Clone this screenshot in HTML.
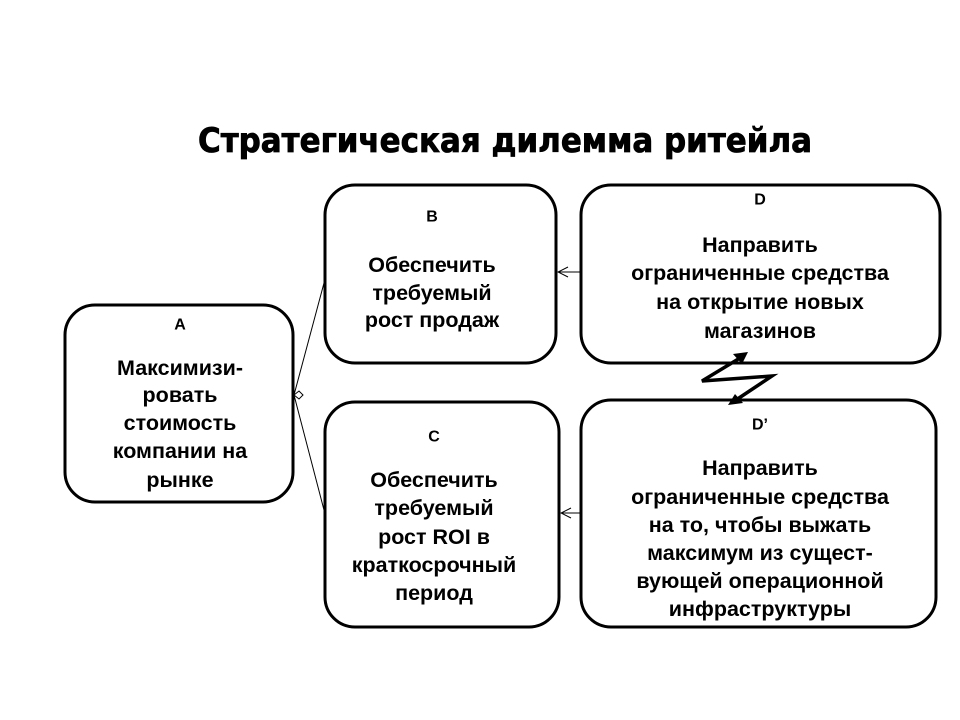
<!DOCTYPE html>
<html><head><meta charset="utf-8"><style>
html,body{margin:0;padding:0;background:#fff;}
svg{display:block;}
text{font-family:"Liberation Sans","DejaVu Sans",sans-serif;font-weight:bold;fill:#000;}
</style></head><body>
<svg width="960" height="720" viewBox="0 0 960 720" xmlns="http://www.w3.org/2000/svg">
<defs>
<marker id="op" markerWidth="12" markerHeight="12" refX="11" refY="6" orient="auto" markerUnits="userSpaceOnUse">
<path d="M1,1 L11,6 L1,11" fill="none" stroke="#000" stroke-width="1"/>
</marker>
</defs>
<text x="505" y="152" font-size="34" text-anchor="middle" textLength="614" lengthAdjust="spacingAndGlyphs" style="font-family:'DejaVu Sans',sans-serif" stroke="#000" stroke-width="0.8">Стратегическая дилемма ритейла</text>
<g fill="none" stroke="#000" stroke-width="3">
<rect x="65" y="305" width="228" height="197" rx="30"/>
<rect x="325" y="185" width="231" height="178" rx="30"/>
<rect x="325" y="402" width="234" height="225" rx="30"/>
<rect x="581" y="185" width="359" height="178" rx="30"/>
<rect x="581" y="400" width="355" height="227" rx="30"/>
</g>
<g stroke="#000" stroke-width="1" fill="none">
<line x1="294" y1="395" x2="324" y2="283"/>
<line x1="294" y1="395" x2="324" y2="510"/>
<path d="M294,395 l5,-4 l4,4 l-4,4 z"/>
<line x1="581" y1="272" x2="558" y2="272" marker-end="url(#op)"/>
<line x1="581" y1="513" x2="561" y2="513" marker-end="url(#op)"/>
</g>
<g stroke="#000" stroke-width="3.5" fill="none">
<polyline points="740,358 702,381 772,376 736,400"/>
</g>
<path d="M748,352 L733,354 L742,364 Z" fill="#000"/>
<path d="M728,405 L743,403 L735,394 Z" fill="#000"/>
<g font-size="21.5" text-anchor="middle" dominant-baseline="central">
<text x="180" y="325" font-size="16">A</text>
<text x="180" y="368">Максимизи-</text>
<text x="180" y="395">ровать</text>
<text x="180" y="423">стоимость</text>
<text x="180" y="451">компании на</text>
<text x="180" y="480">рынке</text>

<text x="432" y="217" font-size="16">B</text>
<text x="432" y="265">Обеспечить</text>
<text x="432" y="293">требуемый</text>
<text x="432" y="320">рост продаж</text>

<text x="434" y="437" font-size="16">C</text>
<text x="434" y="480">Обеспечить</text>
<text x="434" y="508">требуемый</text>
<text x="434" y="537">рост ROI в</text>
<text x="434" y="565">краткосрочный</text>
<text x="434" y="593">период</text>

<text x="760" y="200" font-size="16">D</text>
<text x="760" y="245">Направить</text>
<text x="760" y="273">ограниченные средства</text>
<text x="760" y="302">на открытие новых</text>
<text x="760" y="331">магазинов</text>

<text x="760" y="425" font-size="16">D’</text>
<text x="760" y="468">Направить</text>
<text x="760" y="497">ограниченные средства</text>
<text x="760" y="525">на то, чтобы выжать</text>
<text x="760" y="553">максимум  из сущест-</text>
<text x="760" y="581">вующей операционной</text>
<text x="760" y="609">инфраструктуры</text>
</g>
</svg>
</body></html>
